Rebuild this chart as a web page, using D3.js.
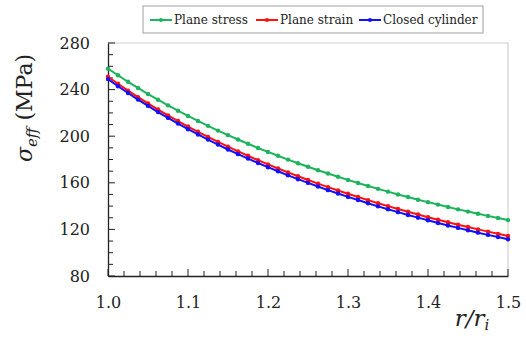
<!DOCTYPE html>
<html>
<head>
<meta charset="utf-8">
<script src="https://cdn.jsdelivr.net/npm/d3@7"></script>
<style>
  body { margin: 0; background: #fff; }
  svg { display: block; }
  .tick-label { font-family: "DejaVu Serif", serif; font-size: 16px; fill: #222; }
  .legend-text { font-family: "DejaVu Serif", serif; font-size: 12px; fill: #222; }
</style>
</head>
<body>
<script>
// Chart size
const width = 526;
const height = 338;
const margin = { top: 43, right: 18, bottom: 62, left: 108 };

// Data
const radiusRatio = [
  1.0, 1.0125, 1.025, 1.0375, 1.05, 1.0625, 1.075, 1.0875, 1.1, 1.1125,
  1.125, 1.1375, 1.15, 1.1625, 1.175, 1.1875, 1.2, 1.2125, 1.225, 1.2375,
  1.25, 1.2625, 1.275, 1.2875, 1.3, 1.3125, 1.325, 1.3375, 1.35, 1.3625,
  1.375, 1.3875, 1.4, 1.4125, 1.425, 1.4375, 1.45, 1.4625, 1.475, 1.4875, 1.5
];
const planeStress = [
  258.0, 252.3, 246.7, 241.4, 236.2, 231.3, 226.5, 221.9, 217.4, 213.1,
  208.9, 204.8, 200.9, 197.2, 193.5, 189.9, 186.5, 183.2, 179.9, 176.8,
  173.8, 170.8, 168.0, 165.2, 162.5, 159.8, 157.3, 154.8, 152.4, 150.0,
  147.8, 145.5, 143.4, 141.3, 139.2, 137.2, 135.3, 133.4, 131.6, 129.8, 128.0
];
const planeStrain = [
  251.0, 245.0, 239.1, 233.5, 228.1, 222.9, 217.9, 213.0, 208.3, 203.8,
  199.4, 195.1, 191.0, 187.0, 183.2, 179.4, 175.8, 172.3, 168.9, 165.6,
  162.4, 159.3, 156.3, 153.4, 150.6, 147.8, 145.1, 142.5, 140.0, 137.5,
  135.1, 132.8, 130.5, 128.3, 126.1, 124.0, 122.0, 120.0, 118.1, 116.2, 114.3
];
const closedCylinder = [
  249.0, 242.9, 237.1, 231.4, 226.0, 220.7, 215.7, 210.8, 206.0, 201.5,
  197.1, 192.8, 188.6, 184.6, 180.8, 177.0, 173.4, 169.9, 166.4, 163.1,
  159.9, 156.8, 153.7, 150.8, 147.9, 145.2, 142.5, 139.8, 137.3, 134.8,
  132.4, 130.1, 127.8, 125.5, 123.4, 121.3, 119.2, 117.2, 115.3, 113.4, 111.5
];
const seriesNames = ["Plane stress", "Plane strain", "Closed cylinder"];
const seriesColors = ["#1db35c", "#ff1010", "#1010ff"];
const xTicks = [1.0, 1.1, 1.2, 1.3, 1.4, 1.5];
const yTicks = [80, 120, 160, 200, 240, 280];

const seriesValues = [planeStress, planeStrain, closedCylinder];

const svg = d3.select("body")
  .append("svg")
  .attr("width", width)
  .attr("height", height);

const xScale = d3.scaleLinear()
  .domain([1.0, 1.5])
  .range([margin.left, width - margin.right]);

const yScale = d3.scaleLinear()
  .domain([80, 280])
  .range([height - margin.bottom, margin.top]);

const x0 = margin.left, x1 = width - margin.right;
const y0 = height - margin.bottom, y1 = margin.top;

// Light frame on top and right
svg.append("path")
  .attr("d", `M${x0},${y1}H${x1}V${y0}`)
  .attr("fill", "none")
  .attr("stroke", "#d0d0d0")
  .attr("stroke-width", 1.2);

// Minor ticks (inward)
const minorY = d3.range(80, 281, 10);
svg.append("g")
  .selectAll("line")
  .data(minorY)
  .join("line")
  .attr("x1", x0)
  .attr("x2", d => x0 + (d % 40 === 0 ? 7 : 5))
  .attr("y1", d => yScale(d))
  .attr("y2", d => yScale(d))
  .attr("stroke", "#222")
  .attr("stroke-width", 1);

const minorX = d3.range(0, 26).map(i => 1.0 + i * 0.02);
svg.append("g")
  .selectAll("line")
  .data(minorX)
  .join("line")
  .attr("x1", d => xScale(d))
  .attr("x2", d => xScale(d))
  .attr("y1", y0)
  .attr("y2", (d, i) => y0 - (i % 5 === 0 ? 7 : 5))
  .attr("stroke", "#222")
  .attr("stroke-width", 1);

// Axes
const bottomAxis = d3.axisBottom(xScale)
  .tickValues(xTicks)
  .tickFormat(d3.format(".1f"))
  .tickSize(0)
  .tickPadding(21);

const leftAxis = d3.axisLeft(yScale)
  .tickValues(yTicks)
  .tickSize(0)
  .tickPadding(18);

const gx = svg.append("g")
  .attr("transform", `translate(0, ${y0})`)
  .call(bottomAxis);
gx.select(".domain").attr("stroke", "#222").attr("stroke-width", 1.3);
gx.selectAll("text").attr("class", "tick-label").attr("fill", "#222");

const gy = svg.append("g")
  .attr("transform", `translate(${x0}, 0)`)
  .call(leftAxis);
gy.select(".domain").attr("stroke", "#222").attr("stroke-width", 1.3);
gy.selectAll("text").attr("class", "tick-label").attr("fill", "#222");

// Lines and markers
const line = d3.line()
  .x((d, i) => xScale(radiusRatio[i]))
  .y(d => yScale(d));

seriesValues.forEach((values, s) => {
  svg.append("path")
    .datum(values)
    .attr("fill", "none")
    .attr("stroke", seriesColors[s])
    .attr("stroke-width", 2)
    .attr("d", line);

  svg.append("g")
    .selectAll("circle")
    .data(values)
    .join("circle")
    .attr("cx", (d, i) => xScale(radiusRatio[i]))
    .attr("cy", d => yScale(d))
    .attr("r", 2.2)
    .attr("fill", seriesColors[s]);
});

// Legend
const legend = svg.append("g");
legend.append("rect")
  .attr("x", 143)
  .attr("y", 6)
  .attr("width", 340)
  .attr("height", 27)
  .attr("fill", "#fff")
  .attr("stroke", "#a0a0a0")
  .attr("stroke-width", 1);

const legendX = [150, 256, 359];
seriesNames.forEach((name, s) => {
  const lx = legendX[s];
  legend.append("line")
    .attr("x1", lx)
    .attr("x2", lx + 22)
    .attr("y1", 20)
    .attr("y2", 20)
    .attr("stroke", seriesColors[s])
    .attr("stroke-width", 2);
  legend.append("circle")
    .attr("cx", lx + 11)
    .attr("cy", 20)
    .attr("r", 2)
    .attr("fill", seriesColors[s]);
  legend.append("text")
    .attr("class", "legend-text")
    .attr("x", lx + 24)
    .attr("y", 24)
    .text(name);
});

// Y-axis label
const yLabel = svg.append("text")
  .attr("transform", "translate(32, 108) rotate(-90)")
  .attr("text-anchor", "middle")
  .attr("font-family", "DejaVu Serif, serif")
  .attr("font-size", 22)
  .attr("fill", "#222");
yLabel.append("tspan").attr("font-style", "italic").text("σ");
yLabel.append("tspan").attr("font-style", "italic").attr("font-size", 15).attr("dy", 5).text("eff");
yLabel.append("tspan").attr("dy", -5).text(" (MPa)");

// X-axis label
const xLabel = svg.append("text")
  .attr("x", 472)
  .attr("y", 326)
  .attr("text-anchor", "middle")
  .attr("font-family", "DejaVu Serif, serif")
  .attr("font-size", 23)
  .attr("font-style", "italic")
  .attr("fill", "#222");
xLabel.append("tspan").text("r/r");
xLabel.append("tspan").attr("font-size", 15).attr("dy", 4).text("i");
</script>
</body>
</html>
